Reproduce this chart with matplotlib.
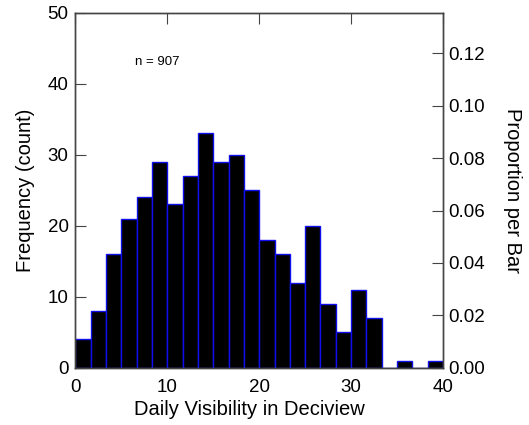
import matplotlib
matplotlib.use('Agg')
import matplotlib.pyplot as plt
import numpy as np

plt.rcParams['font.family'] = ['Liberation Sans', 'DejaVu Sans']

# histogram: 24 bins of width 5/3 deciview from 0 to 40
bin_edges = np.linspace(0, 40, 25)
counts = [4, 8, 16, 21, 24, 29, 23, 27, 33, 29, 30, 25,
          18, 16, 12, 20, 9, 5, 11, 7, 0, 1, 0, 1]
n_label = 'n = 907'
left_ticks = [0, 10, 20, 30, 40, 50]
right_ticks = [0.00, 0.02, 0.04, 0.06, 0.08, 0.10, 0.12]
x_ticks = [0, 10, 20, 30, 40]

SPINE = '#444444'
TICK_FS = 13.5
LABEL_FS = 14.5

fig = plt.figure(figsize=(5.29, 4.25), dpi=100)
fig.patch.set_facecolor('white')
ax = fig.add_axes([0.1427, 0.1348, 0.6947, 0.8352])

ax.hist(bin_edges[:-1], bins=bin_edges, weights=counts,
        color='black', edgecolor='#1010ee', linewidth=1.0)

ax.set_xlim(0, 40)
ax.set_ylim(0, 50)
ax.set_xticks(x_ticks)
ax.set_yticks(left_ticks)
ax.tick_params(axis='x', direction='in', bottom=False, top=True, length=8,
               labelsize=TICK_FS, pad=8, color=SPINE)
ax.tick_params(axis='y', direction='in', left=True, right=False, length=8,
               labelsize=TICK_FS, pad=5, color=SPINE)
for s in ax.spines.values():
    s.set_edgecolor(SPINE)
    s.set_linewidth(1.0)

ax.set_xlabel('Daily Visibility in Deciview', fontsize=LABEL_FS, va='center')
ax.xaxis.set_label_coords(0.472, -0.118)
ax.set_ylabel('Frequency (count)', fontsize=LABEL_FS, va='center')
ax.yaxis.set_label_coords(-0.137, 0.5)

ax.text(6.5, 43, n_label, fontsize=9.5, va='center', ha='left')

total = sum(counts)
ax2 = ax.twinx()
ax2.set_ylim(0, 50 / total)
ax2.set_yticks(right_ticks)
ax2.set_yticklabels([f'{t:.2f}' for t in right_ticks])
ax2.tick_params(axis='y', direction='in', length=8, labelsize=TICK_FS, pad=4, color=SPINE)
for s in ax2.spines.values():
    s.set_edgecolor(SPINE)
    s.set_linewidth(1.0)
ax2.set_ylabel('Proportion per Bar', fontsize=LABEL_FS, rotation=270, va='center')
ax2.yaxis.set_label_coords(1.19, 0.5)

fig.savefig('out.png', dpi=100, facecolor='white')
